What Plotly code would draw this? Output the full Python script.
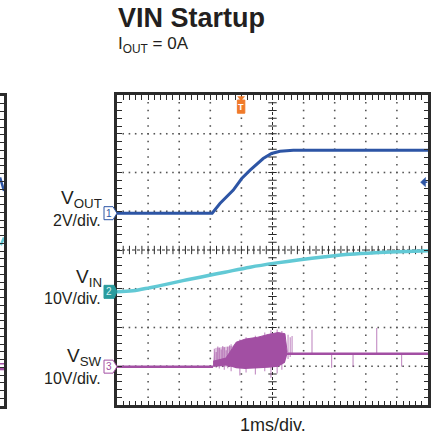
import plotly.graph_objects as go
import numpy as np

W, H = 431, 440
FONT = "Liberation Sans, Arial, Helvetica, sans-serif"
TXT = "#231f20"
BLUE = "#2d55a5"
CYAN = "#62c9d5"
PURPLE = "#a24fa3"
PURPLE_LT = "rgba(162,79,163,0.6)"
TEAL = "#2a9c9e"
ORANGE = "#f07a2a"
FRAME = "#2b2b2b"

# ---------------- scope settings ----------------
x_range = [0, 10]          # ms (1 ms/div, 10 div)
y_range = [-4, 4]          # divisions (8 div)
ch1_vdiv, ch2_vdiv, ch3_vdiv = 2.0, 10.0, 10.0
ch1_offset, ch2_offset, ch3_offset = 0.95, -1.08, -3.01   # ground marker position (div)
trig_time = 3.99           # ms
trig_level = 1.6           # V on CH1

# ---------------- VOUT (CH1, V) ----------------
t_vout = [0, 3.06, 3.31, 3.74, 4.01, 4.28, 4.70, 4.97, 5.24, 5.67, 10]
vout = [0, 0, 0.50, 1.19, 1.79, 2.22, 2.82, 3.08, 3.20, 3.25, 3.25]

# ---------------- VIN (CH2, V) ----------------
t_vin = [0, 0.51, 1.06, 1.61, 2.12, 2.67, 3.47, 4.28, 5.08, 5.88, 6.69, 7.49, 8.30, 9.10, 10.0]
vin = [0, 0.26, 1.08, 1.99, 2.89, 3.79, 5.08, 6.37, 7.41, 8.31, 9.08, 9.73, 10.12, 10.37, 10.58]

# ---------------- VSW (CH3, V) ----------------
vsw_t = [0, 3.09, None, 5.45, 10]
vsw = [0, 0, None, 3.3, 3.3]
# dense switching burst envelope
burst_t = [3.09, 3.30, 3.50, 3.70, 3.83, 4.12, 4.53, 4.86, 5.18, 5.40, 5.47]
burst_hi = [1.4, 1.8, 2.2, 4.6, 6.3, 7.1, 7.6, 8.3, 8.8, 8.5, 3.8]
burst_lo = [0.0, 0.2, 0.3, -0.1, -0.4, -0.6, -0.5, -0.3, 0.0, 1.0, 3.0]
# light zone of sparse pulses at start of burst
sparse_t = [3.09, 3.15, 3.70, 3.83]
sparse_hi = [1.4, 4.8, 5.3, 6.1]
# individual pulses / glitches
spk_t = [3.13, 3.19, 3.24, 3.29, 3.35, 3.40, 3.45, 3.51, 3.56, 3.62, 3.67,
         3.95, 4.15, 4.45, 4.75, 4.95, 5.15, 5.30,
         5.50, 5.57, 5.63, 6.27, 6.90, 7.59, 8.35, 9.15]
spk_lo = [0, -0.3, 0.2, -0.5, 0.3, 0, -0.8, 0.3, -0.4, 0, -1.2,
          -2.3, -1.5, -2.0, -1.2, -2.9, -1.8, -0.8,
          2.0, 2.5, 3.0, 3.3, -0.3, 0.0, 3.3, 0.0]
spk_hi = [4.6, 3.8, 5.2, 4.9, 4.4, 5.3, 5.0, 4.2, 5.1, 5.5, 5.8,
          7.0, 7.6, 8.0, 8.8, 9.4, 9.6, 9.2,
          8.2, 7.6, 7.9, 9.5, 3.3, 3.3, 10.0, 3.3]

# ---------------- neighbouring (cropped) scope panel, in div ----------------
left_t = [9.85, 10.0]
left_blue = [1.9, 1.55]
left_cyan_t = [9.88, 10.0]
left_cyan = [0.15, 0.35]
left_purple = [-3.04, -3.04]
left_purple_mark = [-2.91, -2.91]


def d1(v):
    return [None if a is None else a / ch1_vdiv + ch1_offset for a in v]


def d2(v):
    return [None if a is None else a / ch2_vdiv + ch2_offset for a in v]


def d3(v):
    return [None if a is None else a / ch3_vdiv + ch3_offset for a in v]


fig = go.Figure()

# ---- graticule ----
gx, gy = [], []
for xv in [1, 2, 3, 4, 6, 7, 8, 9]:
    for yv in np.arange(-3.8, 3.81, 0.2):
        gx.append(xv); gy.append(yv)
for yv in [-3, -2, -1, 1, 2, 3]:
    for xv in np.arange(0.2, 9.81, 0.2):
        gx.append(xv); gy.append(yv)
fig.add_trace(go.Scatter(x=gx, y=gy, mode="markers",
                         marker=dict(symbol="square", size=1.6, color="#555555", line=dict(width=0)),
                         hoverinfo="skip"))
fig.add_trace(go.Scatter(x=[0, 10], y=[0, 0], mode="lines",
                         line=dict(color=FRAME, width=1, dash="3px,2px"), hoverinfo="skip"))
fig.add_trace(go.Scatter(x=[5, 5], y=[-4, 4], mode="lines",
                         line=dict(color=FRAME, width=1, dash="3px,2px"), hoverinfo="skip"))
tx = list(np.arange(0.2, 9.81, 0.2))
fig.add_trace(go.Scatter(x=tx, y=[0] * len(tx), mode="markers",
                         marker=dict(symbol="line-ns", size=6, line=dict(color=FRAME, width=1)),
                         hoverinfo="skip"))
ty = list(np.arange(-3.8, 3.81, 0.2))
fig.add_trace(go.Scatter(x=[5] * len(ty), y=ty, mode="markers",
                         marker=dict(symbol="line-ew", size=6, line=dict(color=FRAME, width=1)),
                         hoverinfo="skip"))

# ---- VIN ----
fig.add_trace(go.Scatter(x=t_vin, y=d2(vin), mode="lines", line=dict(color=CYAN, width=3.5, shape="spline"),
                         hoverinfo="skip"))

# ---- VSW ----
fig.add_trace(go.Scatter(x=sparse_t, y=d3([0] * len(sparse_t)), mode="lines", line=dict(width=0),
                         hoverinfo="skip"))
fig.add_trace(go.Scatter(x=sparse_t, y=d3(sparse_hi), mode="lines", line=dict(width=0),
                         fill="tonexty", fillcolor="rgba(162,79,163,0.35)", hoverinfo="skip"))
sx, sy = [], []
for t, lo, hi in zip(spk_t, spk_lo, spk_hi):
    sx += [t, t, None]
    sy += [lo / ch3_vdiv + ch3_offset, hi / ch3_vdiv + ch3_offset, None]
fig.add_trace(go.Scatter(x=sx, y=sy, mode="lines", line=dict(color=PURPLE_LT, width=1.2), hoverinfo="skip"))
fig.add_trace(go.Scatter(x=burst_t, y=d3(burst_lo), mode="lines", line=dict(width=0, color=PURPLE),
                         hoverinfo="skip"))
fig.add_trace(go.Scatter(x=burst_t, y=d3(burst_hi), mode="lines", line=dict(width=1, color=PURPLE),
                         fill="tonexty", fillcolor=PURPLE, hoverinfo="skip"))
fig.add_trace(go.Scatter(x=vsw_t, y=d3(vsw), mode="lines", line=dict(color=PURPLE, width=2.5),
                         hoverinfo="skip"))

# ---- VOUT ----
fig.add_trace(go.Scatter(x=t_vout, y=d1(vout), mode="lines", line=dict(color=BLUE, width=3),
                         hoverinfo="skip"))

# ---- cropped left panel ----
fig.add_trace(go.Scatter(x=left_t, y=left_blue, xaxis="x2", yaxis="y2", mode="lines",
                         line=dict(color=BLUE, width=2.5), hoverinfo="skip"))
fig.add_trace(go.Scatter(x=left_cyan_t, y=left_cyan, xaxis="x2", yaxis="y2", mode="lines",
                         line=dict(color=CYAN, width=2.5), hoverinfo="skip"))
fig.add_trace(go.Scatter(x=left_t, y=left_purple, xaxis="x2", yaxis="y2", mode="lines",
                         line=dict(color=PURPLE, width=3), hoverinfo="skip"))
fig.add_trace(go.Scatter(x=left_t, y=left_purple_mark, xaxis="x2", yaxis="y2", mode="lines",
                         line=dict(color=PURPLE, width=1.5), hoverinfo="skip"))

ax_common = dict(showline=True, linewidth=3, linecolor=FRAME, ticks="inside", tickmode="linear",
                 tick0=0, dtick=0.2, ticklen=4.5, tickwidth=1, tickcolor=FRAME,
                 showticklabels=False, showgrid=False, zeroline=False, fixedrange=True)

fig.update_layout(
    width=W, height=H, margin=dict(l=0, r=0, t=0, b=0),
    paper_bgcolor="white", plot_bgcolor="white", showlegend=False,
    font=dict(family=FONT, color=TXT),
    xaxis=dict(domain=[117 / W, 428 / W], range=x_range, mirror="ticks", **ax_common),
    yaxis=dict(domain=[1 - 405 / H, 1 - 95 / H], range=y_range, mirror="ticks", **ax_common),
    xaxis2=dict(domain=[0, 4 / W], range=[9.85, 10], anchor="y2", showline=True, linewidth=3,
                linecolor=FRAME, mirror=True, showticklabels=False, showgrid=False,
                zeroline=False, ticks="", fixedrange=True),
    yaxis2=dict(domain=[1 - 406 / H, 1 - 96 / H], range=y_range, anchor="x2", side="right",
                **{k: v for k, v in ax_common.items()}),
)


def px(x):
    return x / W


def py(y):
    return 1 - y / H


anns = []


def ann(text, x, y, size, xanchor="right", yanchor="middle", color=TXT, xref="paper", yref="paper"):
    anns.append(dict(text=text, x=x, y=y, xref=xref, yref=yref, xanchor=xanchor, yanchor=yanchor,
                     showarrow=False, font=dict(size=size, color=color, family=FONT)))


ann("<b>VIN Startup</b>", px(116), py(17.5), 27, xanchor="left")
ann("I<sub>OUT</sub> = 0A", px(116), py(45), 17, xanchor="left")
ann("V<sub>OUT</sub>", px(104), py(199), 19)
ann("2V/div.", px(103), py(220), 16)
ann("V<sub>IN</sub>", px(104), py(278), 19)
ann("10V/div.", px(103), py(298), 16)
ann("V<sub>SW</sub>", px(104), py(356.5), 19)
ann("10V/div.", px(103), py(378), 16)
ann("1ms/div.", px(273), py(425), 18, xanchor="center")

# channel markers
shapes = []
hh = 0.168  # half height of marker in div


def pent(x0, x1, x2, yc):
    return (f"M {px(x0)},{yc + hh} L {px(x1)},{yc + hh} L {px(x2)},{yc} "
            f"L {px(x1)},{yc - hh} L {px(x0)},{yc - hh} Z")


shapes.append(dict(type="path", xref="paper", yref="y", path=pent(104, 113, 117, ch1_offset),
                   line=dict(color=BLUE, width=1), fillcolor="white"))
shapes.append(dict(type="path", xref="paper", yref="y", path=pent(104, 114, 117, ch2_offset),
                   line=dict(color=TEAL, width=1), fillcolor=TEAL))
shapes.append(dict(type="path", xref="paper", yref="y", path=pent(104, 113, 117, ch3_offset),
                   line=dict(color=PURPLE, width=1), fillcolor="white"))
ann("1", px(108.5), ch1_offset, 10, xanchor="center", color=BLUE, yref="y")
ann("2", px(109), ch2_offset, 10, xanchor="center", color="#d8f2f2", yref="y")
ann("3", px(108.5), ch3_offset, 10, xanchor="center", color=PURPLE, yref="y")

# trigger time marker (top)
shapes.append(dict(type="path", xref="x", yref="y",
                   path=f"M {trig_time - 0.11},{3.96} L {trig_time + 0.11},{3.96} L {trig_time},{3.85} Z",
                   line=dict(color=ORANGE, width=0.5), fillcolor=ORANGE))
shapes.append(dict(type="rect", xref="x", yref="y", x0=trig_time - 0.12, x1=trig_time + 0.12,
                   y0=3.53, y1=3.87, line=dict(color=ORANGE, width=1), fillcolor=ORANGE))
ann("<b>T</b>", trig_time, 3.70, 9, xanchor="center", color="white", xref="x", yref="y")

# trigger level marker (right)
lvl = trig_level / ch1_vdiv + ch1_offset
shapes.append(dict(type="path", xref="x", yref="y",
                   path=f"M 9.76,{lvl} L 9.92,{lvl + 0.12} L 9.92,{lvl - 0.12} Z",
                   line=dict(color=BLUE, width=0.5), fillcolor=BLUE))
shapes.append(dict(type="line", xref="x", yref="y", x0=9.88, x1=9.98, y0=lvl, y1=lvl,
                   line=dict(color=BLUE, width=1.5)))

fig.update_layout(annotations=anns, shapes=shapes)
fig.write_html("out.html", post_script="document.body.style.margin='0px';",
               config={"displayModeBar": False})
